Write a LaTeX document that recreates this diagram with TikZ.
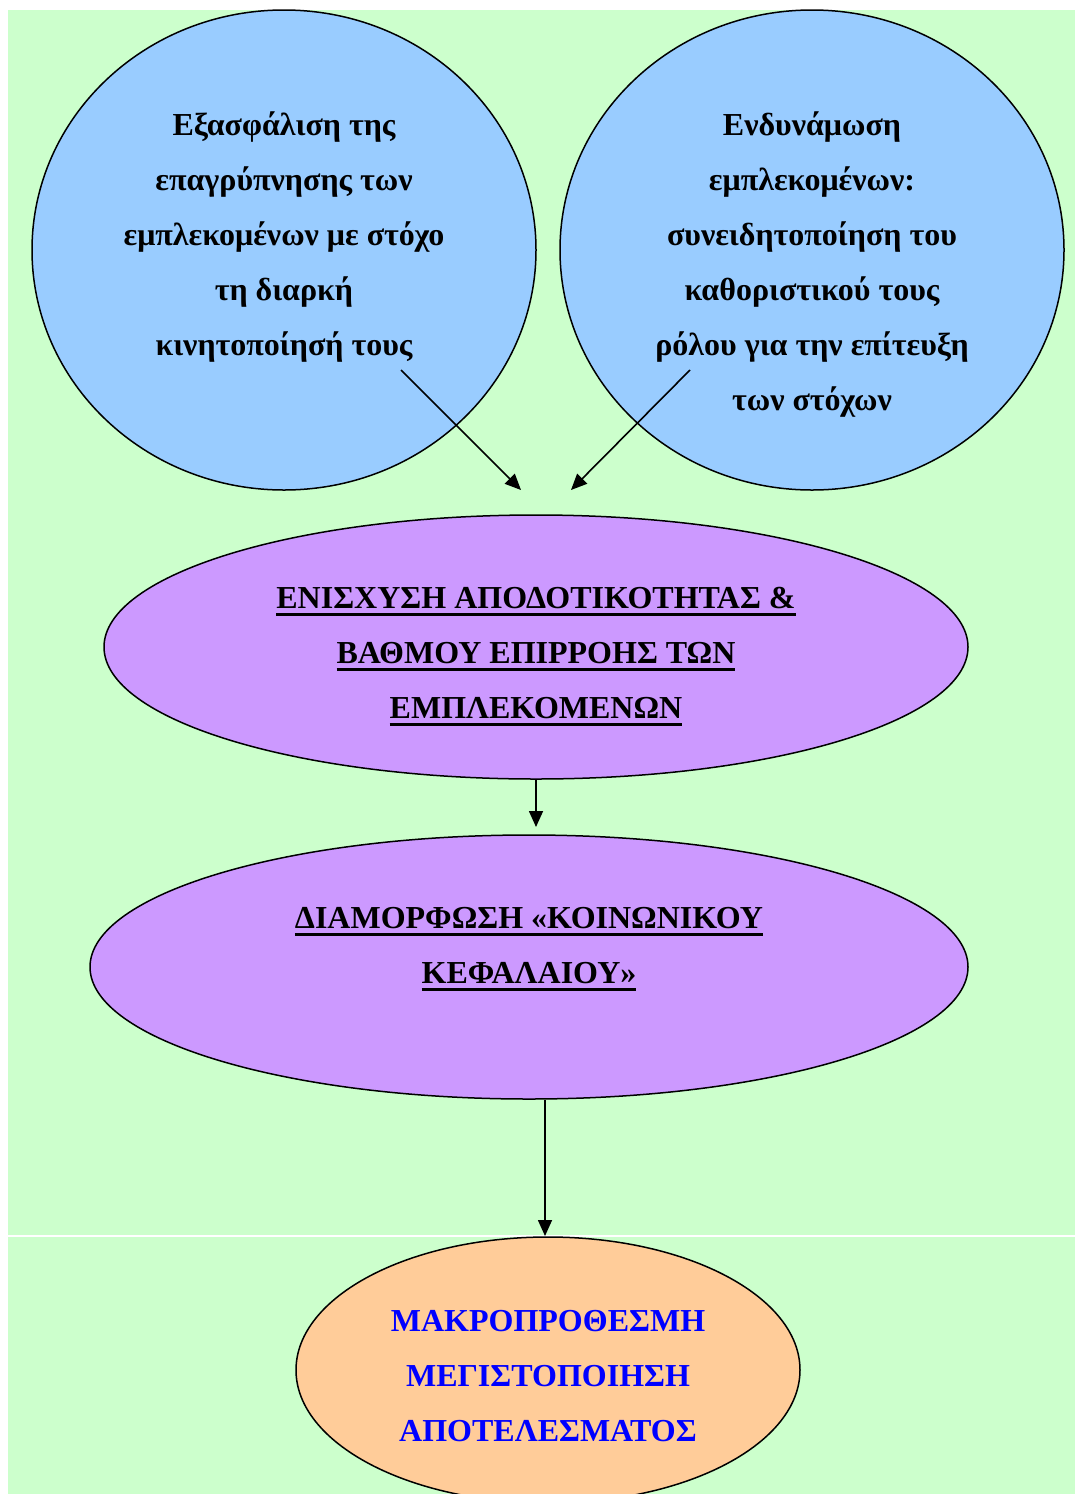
\documentclass[tikz,border=0pt]{standalone}
\usepackage{fontspec}
\setmainfont{Liberation Serif}
\usetikzlibrary{arrows.meta,shapes.geometric}
\definecolor{bggreen}{HTML}{CCFFCC}
\definecolor{circblue}{HTML}{99CCFF}
\definecolor{ellpurple}{HTML}{CC99FF}
\definecolor{ellorange}{HTML}{FFCC99}
\definecolor{textblue}{HTML}{0000FF}
\newcommand\ulline[1]{\setbox0\hbox{#1}\rlap{\raisebox{-8pt}{\rule{\wd0}{3pt}}}\box0}
\tikzset{
  shapebox/.style={ellipse, draw=black, line width=1.5pt, inner sep=0pt},
  bodytext/.style={anchor=base, align=center, font=\bfseries\fontsize{32}{55}\selectfont, inner sep=0pt},
  goaltext/.style={bodytext, text=textblue},
  conn/.style={line width=1.6pt, -{Triangle[length=16pt,width=14pt]}}
}
\begin{document}
\begin{tikzpicture}[x=1pt,y=-1pt]
\useasboundingbox (0,0) rectangle (1075,1494);
\clip (0,0) rectangle (1075,1494);
\fill[bggreen] (8,10) rectangle (1075,1494);
\draw[white, line width=2pt] (8,1236) -- (1075,1236);
% shapes
\node[shapebox, fill=circblue, minimum width=504pt, minimum height=480pt] (c1) at (284,250) {};
\node[shapebox, fill=circblue, minimum width=504pt, minimum height=480pt] (c2) at (812,250) {};
\node[shapebox, fill=ellpurple, minimum width=864pt, minimum height=264pt] (e1) at (536,647) {};
\node[shapebox, fill=ellpurple, minimum width=878pt, minimum height=264pt] (e2) at (529,967) {};
\node[shapebox, fill=ellorange, minimum width=504pt, minimum height=266pt] (e3) at (548,1370) {};
% texts (anchor = baseline of last line)
\node[bodytext] (t1) at (284,355) {Εξασφάλιση της\\επαγρύπνησης των\\εμπλεκομένων με στόχο\\τη διαρκή\\κινητοποίησή τους};
\node[bodytext] (t2) at (812,410) {Ενδυνάμωση\\εμπλεκομένων:\\συνειδητοποίηση του\\καθοριστικού τους\\ρόλου για την επίτευξη\\των στόχων};
\node[bodytext] (t3) at (536,718) {\ulline{ΕΝΙΣΧΥΣΗ ΑΠΟΔΟΤΙΚΟΤΗΤΑΣ \&}\\\ulline{ΒΑΘΜΟΥ ΕΠΙΡΡΟΗΣ ΤΩΝ}\\\ulline{ΕΜΠΛΕΚΟΜΕΝΩΝ}};
\node[bodytext] (t4) at (529,983) {\ulline{ΔΙΑΜΟΡΦΩΣΗ «ΚΟΙΝΩΝΙΚΟΥ}\\\ulline{ΚΕΦΑΛΑΙΟΥ»}};
\node[goaltext] (t5) at (548,1441) {ΜΑΚΡΟΠΡΟΘΕΣΜΗ\\ΜΕΓΙΣΤΟΠΟΙΗΣΗ\\ΑΠΟΤΕΛΕΣΜΑΤΟΣ};
% connectors
\coordinate (a1s) at (401,370);
\coordinate (a1e) at (521,490);
\coordinate (a2s) at (690,370);
\coordinate (a2e) at (571,490);
\coordinate (a3e) at (536,827);
\coordinate (a4e) at (545,1236);
\draw[conn] (a1s) -- (a1e);
\draw[conn] (a2s) -- (a2e);
\draw[conn] (e1.south) -- (a3e);
\draw[conn] (e2.south -| a4e) -- (a4e);
\end{tikzpicture}
\end{document}
